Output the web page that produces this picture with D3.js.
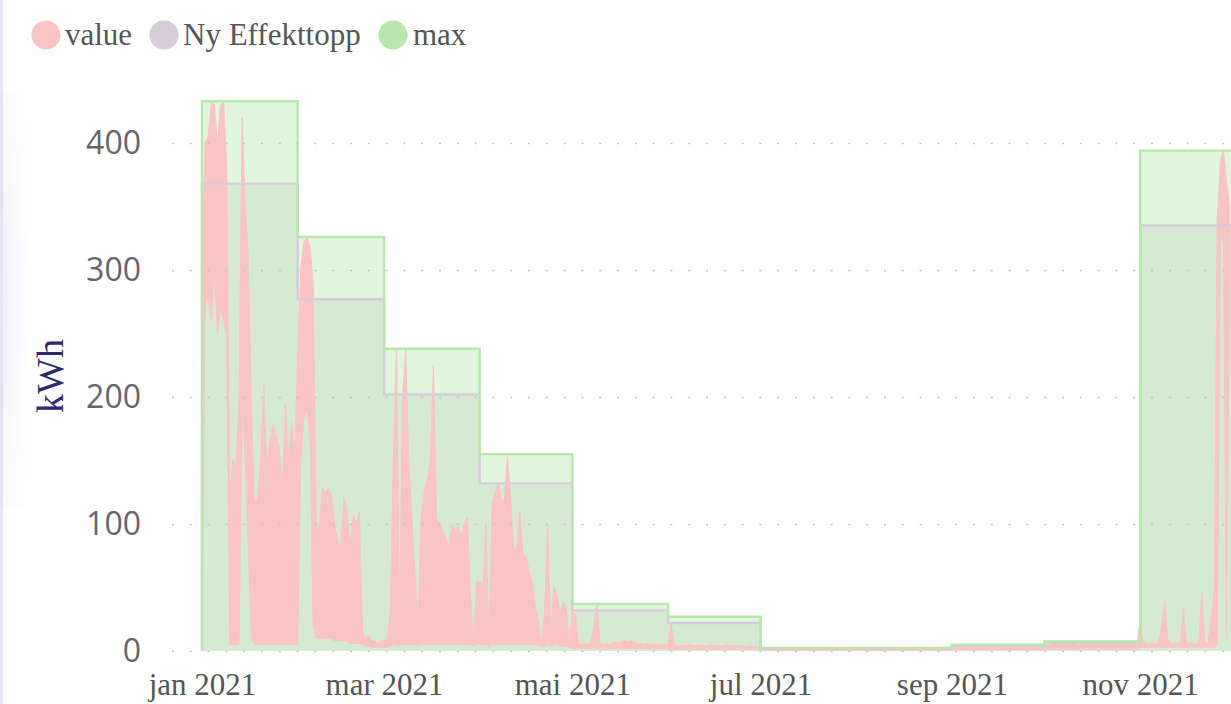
<!DOCTYPE html>
<html>
<head>
<meta charset="utf-8">
<script src="https://cdn.jsdelivr.net/npm/d3@7"></script>
<style>
  html, body { margin: 0; padding: 0; background: #fff; }
  svg { display: block; }
  .legend-label { font-family: "Liberation Serif", serif; font-size: 31px; fill: #555; }
  .x-axis text { font-family: "Liberation Serif", serif; font-size: 31px; fill: #555; }
  .y-axis text { font-family: "Open Sans", sans-serif; font-size: 32px; fill: #666; }
  .y-title { font-family: "Liberation Serif", serif; font-size: 38px; fill: #2f2b6b; }
</style>
</head>
<body>
<svg id="chart" width="1231" height="704"></svg>
<script>
// series shown in the legend
const seriesNames = ["value", "Ny Effekttopp", "max"];

// monthly step series (jan .. nov 2021)
const monthLabels = ["jan", "feb", "mar", "apr", "mai", "jun", "jul", "aug", "sep", "okt", "nov"];
const maxValues = [433, 326, 238, 155, 37, 27, 2.5, 2.5, 5, 7.5, 394];
const nyEffekttopp = [368, 277, 202, 132, 32, 22, 2, 2, 4, 6.5, 335];

// daily range of "value" (high / low of the day), from 1 jan 2021
const dailyHigh = [
  // jan
  300, 400, 405, 432, 430, 400, 430, 432, 380, 125,
  150, 145, 200, 420, 350, 310, 190, 115, 120, 150,
  210, 146, 165, 178, 170, 160, 125, 194, 150, 180, 150,
  // feb
  230, 300, 322, 326, 318, 290, 100, 93, 129, 125,
  128, 121, 100, 85, 83, 121, 110, 80, 107, 100,
  110, 15, 10, 12, 8, 8, 6, 8,
  // mar
  8, 10, 30, 150, 237, 20, 200, 237, 150, 105,
  60, 20, 105, 125, 135, 150, 225, 105, 100, 95,
  90, 80, 100, 95, 98, 90, 100, 105, 40, 8, 55,
  // apr
  55, 50, 100, 5, 115, 125, 132, 118, 120, 154,
  120, 80, 80, 110, 75, 75, 62, 55, 35, 25,
  5, 30, 100, 10, 50, 45, 30, 38, 35, 5,
  // mai
  32, 28, 6, 5, 6, 5, 6, 20, 38, 6,
  5, 6, 5, 6, 7, 6, 7, 8, 7, 8,
  7, 6, 6, 5, 6, 5, 5, 6, 5, 5, 5,
  // jun
  5, 22, 5, 4, 5, 4, 4, 5, 4, 4,
  5, 4, 4, 4, 5, 4, 4, 4, 4, 5,
  4, 4, 4, 4, 4, 3, 4, 4, 3, 3,
  // jul
  3, 2, 3, 2, 2, 3, 2, 2, 3, 2,
  2, 2, 3, 2, 2, 2, 3, 2, 2, 2,
  2, 3, 2, 2, 2, 3, 2, 2, 2, 2, 3,
  // aug
  2, 3, 2, 2, 2, 3, 2, 2, 2, 3,
  2, 2, 3, 2, 2, 2, 3, 2, 2, 2,
  3, 2, 2, 3, 2, 2, 2, 3, 2, 3, 3,
  // sep
  3, 4, 4, 3, 4, 4, 5, 4, 3, 4,
  4, 4, 5, 4, 4, 3, 4, 4, 4, 5,
  4, 4, 3, 4, 4, 5, 4, 4, 4, 5,
  // okt
  5, 5, 4, 5, 6, 5, 5, 5, 6, 5,
  5, 4, 5, 6, 5, 5, 5, 6, 5, 5,
  5, 6, 5, 5, 6, 5, 5, 6, 5, 6, 6,
  // nov
  22, 8, 6, 6, 6, 6, 6, 20, 40, 8,
  6, 6, 6, 6, 34, 6, 6, 6, 6, 6,
  46, 6, 6, 25, 46, 340, 385, 394, 370, 350
];
const dailyLow = [
  // jan
  5, 270, 280, 260, 300, 250, 270, 260, 250, 5,
  5, 5, 5, 200, 150, 80, 10, 5, 5, 5,
  5, 5, 5, 5, 5, 5, 5, 5, 5, 5, 5,
  // feb
  5, 150, 184, 190, 170, 20, 10, 10, 10, 10,
  10, 10, 8, 8, 8, 8, 8, 6, 6, 6,
  6, 5, 4, 4, 3, 3, 3, 3,
  // mar
  3, 3, 4, 5, 5, 4, 5, 5, 5, 5,
  5, 4, 5, 5, 5, 5, 5, 5, 5, 5,
  5, 5, 5, 5, 5, 5, 5, 5, 5, 4, 5,
  // apr
  5, 5, 5, 3, 5, 5, 5, 5, 5, 5,
  5, 5, 5, 5, 5, 5, 5, 5, 5, 5,
  3, 4, 5, 4, 5, 5, 4, 4, 4, 3,
  // mai
  2, 2, 2, 2, 2, 2, 2, 2, 2, 2,
  2, 2, 2, 2, 2, 2, 2, 2, 2, 2,
  2, 2, 2, 2, 2, 2, 2, 2, 2, 2, 2,
  // jun
  1.5, 1.5, 1.5, 1.5, 1.5, 1.5, 1.5, 1.5, 1.5, 1.5,
  1.5, 1.5, 1.5, 1.5, 1.5, 1.5, 1.5, 1.5, 1.5, 1.5,
  1.5, 1.5, 1.5, 1.5, 1.5, 1.5, 1.5, 1.5, 1.5, 1.5,
  // jul
  0.5, 0.5, 0.5, 0.5, 0.5, 0.5, 0.5, 0.5, 0.5, 0.5,
  0.5, 0.5, 0.5, 0.5, 0.5, 0.5, 0.5, 0.5, 0.5, 0.5,
  0.5, 0.5, 0.5, 0.5, 0.5, 0.5, 0.5, 0.5, 0.5, 0.5, 0.5,
  // aug
  0.5, 0.5, 0.5, 0.5, 0.5, 0.5, 0.5, 0.5, 0.5, 0.5,
  0.5, 0.5, 0.5, 0.5, 0.5, 0.5, 0.5, 0.5, 0.5, 0.5,
  0.5, 0.5, 0.5, 0.5, 0.5, 0.5, 0.5, 0.5, 0.5, 0.5, 0.5,
  // sep
  1, 1, 1, 1, 1, 1, 1, 1, 1, 1,
  1, 1, 1, 1, 1, 1, 1, 1, 1, 1,
  1, 1, 1, 1, 1, 1, 1, 1, 1, 1,
  // okt
  1.5, 1.5, 1.5, 1.5, 1.5, 1.5, 1.5, 1.5, 1.5, 1.5,
  1.5, 1.5, 1.5, 1.5, 1.5, 1.5, 1.5, 1.5, 1.5, 1.5,
  1.5, 1.5, 1.5, 1.5, 1.5, 1.5, 1.5, 1.5, 1.5, 1.5, 1.5,
  // nov
  3, 3, 3, 3, 3, 3, 3, 3, 3, 3,
  3, 3, 3, 3, 3, 3, 3, 3, 3, 3,
  3, 3, 3, 3, 3, 5, 330, 320, 10, 300
];

const yTicks = [0, 100, 200, 300, 400];
const xTickMonths = ["2021-01-01", "2021-03-01", "2021-05-01", "2021-07-01", "2021-09-01", "2021-11-01"];

const COLORS = {
  value: "#fac3c4",
  ny: "#d5cdd8",
  nyFill: "#d6e9d3",
  max: "#b7e7ac",
  maxFill: "#e1f6dc"
};

const W = 1231, H = 704;
const plot = { left: 172, right: W, top: 60, bottom: 652 };

const svg = d3.select("#chart");
const defs = svg.append("defs");

// faint frame edge on the left of the screenshot
const grad = defs.append("radialGradient").attr("id", "edge")
  .attr("cx", "0%").attr("cy", "50%").attr("r", "100%");
grad.append("stop").attr("offset", "0%").attr("stop-color", "#ebe7f4").attr("stop-opacity", 0.7);
grad.append("stop").attr("offset", "100%").attr("stop-color", "#ffffff").attr("stop-opacity", 0);
svg.append("rect").attr("x", 3).attr("y", 90).attr("width", 40).attr("height", 420).attr("fill", "url(#edge)");
svg.append("rect").attr("x", 0).attr("y", 0).attr("width", 3).attr("height", H).attr("fill", "#e8e4f3");

defs.append("clipPath").attr("id", "plotclip")
  .append("rect").attr("x", plot.left).attr("y", plot.top)
  .attr("width", plot.right - plot.left).attr("height", plot.bottom - plot.top);

const parse = d3.timeParse("%Y-%m-%d");
const DAY0 = new Date(2021, 0, 1);
const PX_PER_DAY = 3.086;

const x = d3.scaleTime()
  .domain([DAY0, new Date(2022, 0, 1)])
  .range([202, 202 + 365 * PX_PER_DAY]);

const y = d3.scaleLinear().domain([0, 400]).range([651, 143]);

// monthly steps, closed at 1 des
const monthDates = monthLabels.map((m, i) => new Date(2021, i, 1));
const stepEnd = new Date(2021, monthLabels.length, 1);
const maxSteps = maxValues.map((v, i) => ({ date: monthDates[i], v }))
  .concat([{ date: stepEnd, v: maxValues[maxValues.length - 1] }]);
const nySteps = nyEffekttopp.map((v, i) => ({ date: monthDates[i], v }))
  .concat([{ date: stepEnd, v: nyEffekttopp[nyEffekttopp.length - 1] }]);

const daily = dailyHigh.map((h, i) => ({ date: d3.timeDay.offset(DAY0, i), high: h, low: dailyLow[i] }));

const g = svg.append("g").attr("clip-path", "url(#plotclip)");

const stepArea = d3.area().curve(d3.curveStepAfter)
  .x(d => x(d.date)).y0(y(0)).y1(d => y(d.v));
const stepLine = d3.line().curve(d3.curveStepAfter)
  .x(d => x(d.date)).y(d => y(d.v));

g.append("path").datum(maxSteps).attr("d", stepArea).attr("fill", COLORS.maxFill);
g.append("path").datum(nySteps).attr("d", stepArea).attr("fill", COLORS.nyFill);

// dotted grid
const grid = svg.append("g")
  .attr("transform", `translate(${plot.left},0)`)
  .call(d3.axisLeft(y).tickValues(yTicks).tickSize(-(plot.right - plot.left)).tickFormat(""));
grid.select(".domain").remove();
grid.selectAll("line")
  .attr("stroke", "#c4c4c4").attr("stroke-width", 1.6)
  .attr("stroke-dasharray", "2,15.8");

// value band (daily low .. high)
const band = d3.area()
  .x(d => x(d.date)).y0(d => y(d.low)).y1(d => y(d.high));
g.append("path").datum(daily).attr("d", band)
  .attr("fill", COLORS.value).attr("stroke", COLORS.value).attr("stroke-width", 1);

// step outlines, with the left vertical edge
const withEdges = s => [{ date: s[0].date, v: 0 }].concat(s, [{ date: s[s.length - 1].date, v: 0 }]);
g.append("path").datum(withEdges(nySteps)).attr("d", stepLine)
  .attr("fill", "none").attr("stroke", COLORS.ny).attr("stroke-width", 2.4);
g.append("path").datum(withEdges(maxSteps)).attr("d", stepLine)
  .attr("fill", "none").attr("stroke", COLORS.max).attr("stroke-width", 2.4);

// axes
const nb = d3.timeFormatLocale({
  dateTime: "%A %e. %B %Y kl. %X", date: "%d.%m.%Y", time: "%H:%M:%S", periods: ["AM", "PM"],
  days: ["søndag", "mandag", "tirsdag", "onsdag", "torsdag", "fredag", "lørdag"],
  shortDays: ["søn", "man", "tir", "ons", "tor", "fre", "lør"],
  months: ["januar", "februar", "mars", "april", "mai", "juni", "juli", "august", "september", "oktober", "november", "desember"],
  shortMonths: ["jan", "feb", "mar", "apr", "mai", "jun", "jul", "aug", "sep", "okt", "nov", "des"]
});

const xAxis = svg.append("g").attr("class", "x-axis")
  .attr("transform", "translate(0,695)")
  .call(d3.axisBottom(x).tickValues(xTickMonths.map(parse)).tickSize(0).tickFormat(nb.format("%b %Y")));
xAxis.select(".domain").remove();
xAxis.selectAll("text").attr("y", 0).attr("dy", 0);

const yAxis = svg.append("g").attr("class", "y-axis")
  .attr("transform", "translate(141,0)")
  .call(d3.axisLeft(y).tickValues(yTicks).tickSize(0).tickPadding(0));
yAxis.select(".domain").remove();
yAxis.selectAll("text").attr("dy", "0.33em");

svg.append("text").attr("class", "y-title")
  .attr("transform", "translate(63,376) rotate(-90)")
  .attr("text-anchor", "middle")
  .text("kWh");

// legend
const legendItems = [
  { name: seriesNames[0], color: COLORS.value, cx: 46, tx: 65 },
  { name: seriesNames[1], color: COLORS.ny, cx: 164, tx: 183 },
  { name: seriesNames[2], color: COLORS.max, cx: 393, tx: 413 }
];
const legend = svg.append("g");
legendItems.forEach(it => {
  legend.append("circle").attr("cx", it.cx).attr("cy", 35).attr("r", 14.5).attr("fill", it.color);
  legend.append("text").attr("class", "legend-label").attr("x", it.tx).attr("y", 45).text(it.name);
});
</script>
</body>
</html>
